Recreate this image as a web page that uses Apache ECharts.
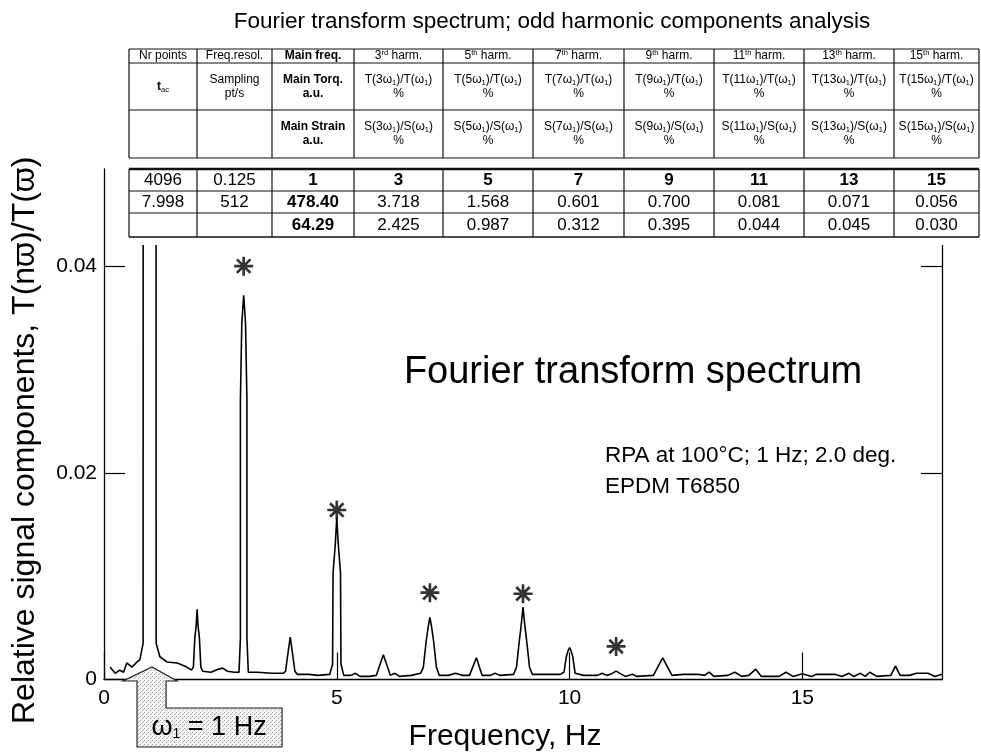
<!DOCTYPE html>
<html>
<head>
<meta charset="utf-8">
<script src="https://cdn.jsdelivr.net/npm/echarts@6/dist/echarts.min.js"></script>
<style>
  html, body { margin: 0; padding: 0; background: #fff; }
  #chart { width: 981px; height: 754px; }
</style>
</head>
<body>
<div id="chart"></div>
<script>
// ---------- data ----------
const harmonicOrders = [3, 5, 7, 9, 11, 13, 15];
const torqueRatioPct = [3.718, 1.568, 0.601, 0.700, 0.081, 0.071, 0.056];
const strainRatioPct = [2.425, 0.987, 0.312, 0.395, 0.044, 0.045, 0.030];
const nrPoints = 4096;
const freqResolution = 0.125;
const mainFrequency = 1;
const acquisitionTime = 7.998;
const samplingRate = 512;
const mainTorque = 478.40;
const mainStrain = 64.29;

// spectrum trace between the odd-harmonic apexes (frequency in Hz, relative amplitude)
const traceFreq = [
  0.13, 0.24, 0.34, 0.42, 0.49, 0.60, 0.71, 0.77, 0.84, 0.85, 1.00, 1.11, 1.12, 1.20, 1.35, 1.57, 1.78, 1.88,
  1.92, 1.95, 1.98, 2.00, 2.02, 2.05, 2.08, 2.12, 2.30, 2.45, 2.55, 2.65, 2.80, 2.90,
  2.93, 2.93, 2.96, 3.04, 3.07, 3.07, 3.10, 3.30, 3.60, 3.85,
  3.90, 3.95, 4.00, 4.05, 4.10, 4.15, 4.40, 4.60, 4.85,
  4.91, 4.92, 4.97, 5.03, 5.08, 5.09, 5.15, 5.30, 5.40, 5.50, 5.70,
  5.85, 6.00, 6.15, 6.25, 6.35, 6.60, 6.80,
  6.86, 6.92, 6.96, 7.04, 7.08, 7.14, 7.20, 7.40, 7.55, 7.70, 7.85,
  8.00, 8.12, 8.30, 8.40, 8.50, 8.80,
  8.86, 8.92, 8.96, 9.04, 9.08, 9.14, 9.20, 9.50, 9.80,
  9.88, 9.93, 9.97, 10.00, 10.03, 10.07, 10.12, 10.30, 10.60, 10.70, 10.80,
  10.88, 11.12, 11.20, 11.35, 11.45, 11.80,
  12.00, 12.20, 12.45, 12.75, 12.90, 13.10, 13.40, 13.55, 13.70, 13.85,
  14.00, 14.12, 14.50, 14.65, 14.80, 15.20, 15.30, 15.70, 15.85, 16.00, 16.10, 16.25, 16.35, 16.45, 16.60, 16.90,
  17.00, 17.10, 17.30, 17.45, 17.70, 17.85, 18.00
];
const traceAmp = [
  0.0012, 0.0006, 0.0009, 0.0007, 0.0016, 0.0012, 0.0017, 0.0019, 0.0035, 0.30, 1.00, 0.30, 0.0035, 0.0022, 0.0017, 0.0016, 0.0012, 0.0009,
  0.0012, 0.0040, 0.0052, 0.0068, 0.0052, 0.0040, 0.0012, 0.0008, 0.0007, 0.0010, 0.0011, 0.0008, 0.0007, 0.0007,
  0.0040, 0.0270, 0.0345, 0.0345, 0.0270, 0.0040, 0.0007, 0.0007, 0.0006, 0.0006,
  0.0008, 0.0025, 0.0041, 0.0025, 0.0008, 0.0005, 0.0005, 0.0004, 0.0005,
  0.0015, 0.0103, 0.0132, 0.0132, 0.0103, 0.0015, 0.0004, 0.0004, 0.0006, 0.0003, 0.0003,
  0.0004, 0.0024, 0.0004, 0.0006, 0.0003, 0.0004, 0.0006,
  0.0012, 0.0037, 0.0050, 0.0050, 0.0037, 0.0012, 0.0004, 0.0004, 0.0006, 0.0004, 0.0004,
  0.0021, 0.0004, 0.0004, 0.0006, 0.0004, 0.0005,
  0.0012, 0.0037, 0.0052, 0.0052, 0.0037, 0.0012, 0.0005, 0.0005, 0.0005,
  0.0007, 0.0022, 0.0028, 0.0031, 0.0028, 0.0022, 0.0006, 0.0004, 0.0004, 0.0006, 0.0004,
  0.0005, 0.0005, 0.0003, 0.0005, 0.0003, 0.0004,
  0.0021, 0.0004, 0.0005, 0.0005, 0.0004, 0.0003, 0.0004, 0.0007, 0.0003, 0.0004,
  0.0010, 0.0003, 0.0003, 0.0007, 0.0003, 0.0003, 0.0005, 0.0005, 0.0003, 0.0006, 0.0003, 0.0006, 0.0003, 0.0007, 0.0003, 0.0004,
  0.0013, 0.0004, 0.0004, 0.0006, 0.0006, 0.0003, 0.0005
];

// asterisks marking the analysed odd harmonics
const starFreq = [3, 5, 7, 9, 11];
const starAmp = [0.0400, 0.0164, 0.0084, 0.0083, 0.0032];

// ---------- build series ----------
const spectrum = traceFreq.map((f, i) => [f, traceAmp[i]]);
harmonicOrders.forEach((n, i) => spectrum.push([n * mainFrequency, torqueRatioPct[i] / 100]));
spectrum.sort((a, b) => a[0] - b[0]);
const stars = starFreq.map((f, i) => [f, starAmp[i]]);

const FONT = '"Liberation Sans", Arial, Helvetica, sans-serif';
const STAR = 'path://M-1.4,-10 L1.4,-10 L1.4,10 L-1.4,10 Z M-10,-1.4 L10,-1.4 L10,1.4 L-10,1.4 Z ' +
  'M-6.1,-8.1 L8.1,6.1 L6.1,8.1 L-8.1,-6.1 Z M-8.1,6.1 L6.1,-8.1 L8.1,-6.1 L-6.1,8.1 Z';

// ---------- tables (drawn as graphic elements) ----------
const colX = [129, 197, 272, 354, 443, 533, 624, 714, 804, 894, 979];
const headRowY = [49, 63, 110, 158];
const dataRowY = [169, 191, 213, 237];
const cx = c => (colX[c] + colX[c + 1]) / 2;

const graphics = [];
function line(x1, y1, x2, y2, w) {
  graphics.push({ type: 'line', z: 100, silent: true,
    shape: { x1, y1, x2, y2 }, style: { stroke: '#111', lineWidth: w || 1.2 } });
}
function text(x, y, str, st) {
  graphics.push({ type: 'text', z: 101, silent: true, x, y,
    style: Object.assign({ text: str, align: 'center', verticalAlign: 'middle', fill: '#000',
      fontFamily: FONT, fontSize: 12 }, st || {}) });
}

// chart title
text(552, 22, 'Fourier transform spectrum; odd harmonic components analysis', { fontSize: 22.5 });

// header table
const ordinal = n => (n === 3 ? 'rd' : 'th');
const headRich = {
  b: { fontWeight: 'bold', fontSize: 12, fontFamily: FONT, lineHeight: 14 },
  s: { fontSize: 7.5, fontFamily: FONT, verticalAlign: 'top', lineHeight: 8 },
  u: { fontSize: 7.5, fontFamily: FONT, verticalAlign: 'bottom', lineHeight: 8 }
};
const headRow1 = ['Nr points', 'Freq.resol.', '{b|Main freq.}']
  .concat(harmonicOrders.map(n => n + '{s|' + ordinal(n) + '} harm.'));
const headRow2 = ['{b|t}{u|ac}', 'Sampling\npt/s', '{b|Main Torq.}\n{b|a.u.}']
  .concat(harmonicOrders.map(n => 'T(' + n + 'ω{u|1})/T(ω{u|1})\n%'));
const headRow3 = ['', '', '{b|Main Strain}\n{b|a.u.}']
  .concat(harmonicOrders.map(n => 'S(' + n + 'ω{u|1})/S(ω{u|1})\n%'));
[headRow1, headRow2, headRow3].forEach((row, r) => {
  const yc = (headRowY[r] + headRowY[r + 1]) / 2;
  row.forEach((s, c) => { if (s) text(cx(c), yc, s, { rich: headRich, lineHeight: 14 }); });
});
headRowY.forEach(y => line(colX[0], y, colX[colX.length - 1], y, 1.2));
colX.forEach(x => line(x, headRowY[0], x, headRowY[3], 1.2));

// white backing of the value table
graphics.push({ type: 'rect', z: 99, silent: true,
  shape: { x: 121, y: 160, width: 860, height: 85 }, style: { fill: '#fff' } });

// value table
const dataRow1 = [String(nrPoints), String(freqResolution), String(mainFrequency)]
  .concat(harmonicOrders.map(String));
const dataRow2 = [acquisitionTime.toFixed(3), String(samplingRate), mainTorque.toFixed(2)]
  .concat(torqueRatioPct.map(v => v.toFixed(3)));
const dataRow3 = ['', '', mainStrain.toFixed(2)].concat(strainRatioPct.map(v => v.toFixed(3)));
[dataRow1, dataRow2, dataRow3].forEach((row, r) => {
  const yc = (dataRowY[r] + dataRowY[r + 1]) / 2;
  row.forEach((s, c) => {
    if (!s) return;
    const bold = (r === 0 && c >= 2) || c === 2;
    text(cx(c), yc + 0.5, s, { fontSize: 17, fontWeight: bold ? 'bold' : 'normal' });
  });
});
line(colX[0], dataRowY[0], colX[colX.length - 1], dataRowY[0], 2.6);
line(colX[0], dataRowY[1], colX[colX.length - 1], dataRowY[1], 1.2);
line(colX[0], dataRowY[2], colX[colX.length - 1], dataRowY[2], 1.2);
line(colX[0], dataRowY[3], colX[colX.length - 1], dataRowY[3], 1.4);
colX.forEach(x => line(x, dataRowY[0], x, dataRowY[3], 1.2));

// in-plot annotations
text(633, 373, 'Fourier transform spectrum', { fontSize: 38 });
text(605, 456, 'RPA at 100°C; 1 Hz; 2.0 deg.', { fontSize: 22.5, align: 'left' });
text(605, 487, 'EPDM T6850', { fontSize: 22.5, align: 'left' });

// ---------- chart ----------
const axisText = { color: '#000', fontFamily: FONT, fontSize: 21 };
const chart = echarts.init(document.getElementById('chart'), null, { renderer: 'canvas' });
chart.setOption({
  animation: false,
  backgroundColor: '#fff',
  textStyle: { fontFamily: FONT },
  grid: { left: 104, right: 39, top: 169, bottom: 74.5, outerBoundsMode: 'none' },
  xAxis: {
    type: 'value', min: 0, max: 18, interval: 5,
    axisLine: { show: true, onZero: false, lineStyle: { color: '#000', width: 1.3 } },
    axisTick: { show: true, inside: true, length: 27, lineStyle: { color: '#000', width: 1.2 } },
    axisLabel: Object.assign({ margin: 8, showMaxLabel: false }, axisText),
    splitLine: { show: false },
    name: 'Frequency, Hz', nameLocation: 'middle', nameGap: 42,
    nameTextStyle: { color: '#000', fontFamily: FONT, fontSize: 30, padding: [0, 36, 0, 0] }
  },
  yAxis: [{
    type: 'value', min: 0, max: 0.0494, interval: 0.02,
    axisLine: { show: true, onZero: false, lineStyle: { color: '#000', width: 1.3 } },
    axisTick: { show: true, inside: true, length: 21, lineStyle: { color: '#000', width: 1.2 } },
    axisLabel: Object.assign({ margin: 7, showMaxLabel: false,
      formatter: v => (v === 0 ? '0' : v.toFixed(2)) }, axisText),
    splitLine: { show: false },
    name: 'Relative signal components, T(nϖ)/T(ϖ)', nameLocation: 'middle', nameGap: 63,
    nameTextStyle: { color: '#000', fontFamily: FONT, fontSize: 32, padding: [0, 32, 0, 0] }
  }, {
    type: 'value', min: 0, max: 0.0494, interval: 0.02, position: 'right',
    axisLine: { show: true, onZero: false, lineStyle: { color: '#000', width: 1.3 } },
    axisTick: { show: true, inside: true, length: 21, lineStyle: { color: '#000', width: 1.2 } },
    axisLabel: { show: false },
    splitLine: { show: false }
  }],
  series: [{
    type: 'line', data: spectrum, symbol: 'none', showSymbol: false, clip: true, z: 3,
    lineStyle: { color: '#000', width: 1.6 }, silent: true
  }, {
    type: 'scatter', data: stars, symbol: STAR, symbolSize: 19, symbolKeepAspect: true, z: 4,
    itemStyle: { color: '#000' }, silent: true
  }],
  graphic: graphics
});

// stippled arrow pointing at the fundamental, anchored to (1 Hz, 0)
const pat = document.createElement('canvas');
pat.width = 4; pat.height = 4;
const pc = pat.getContext('2d');
pc.fillStyle = '#f4f4f4'; pc.fillRect(0, 0, 4, 4);
pc.fillStyle = '#a8a8a8'; pc.fillRect(0, 0, 1, 1); pc.fillRect(2, 2, 1, 1);
pc.fillStyle = '#c8c8c8'; pc.fillRect(3, 1, 1, 1);
const tip = chart.convertToPixel({ gridIndex: 0 }, [mainFrequency, 0]);
const tx = tip[0] + 1.5, ty = tip[1] - 12.5;
const arrowPts = [[0, 0], [25, 14], [14, 14], [14, 41], [130, 41], [130, 80], [-15, 80], [-15, 14], [-29, 14]]
  .map(p => [tx + p[0], ty + p[1]]);
graphics.push({ type: 'polygon', z: 110, silent: true, shape: { points: arrowPts },
  style: { fill: { image: pat, repeat: 'repeat' }, stroke: '#222', lineWidth: 1.2 } });
graphics.push({ type: 'text', z: 111, silent: true, x: tx + 57, y: ty + 61,
  style: { text: 'ω{u|1} = 1 Hz', align: 'center', verticalAlign: 'middle', fill: '#000',
    fontFamily: FONT, fontSize: 27,
    rich: { u: { fontFamily: FONT, fontSize: 14, verticalAlign: 'bottom', lineHeight: 14 } } } });
chart.setOption({ graphic: graphics });
</script>
</body>
</html>
